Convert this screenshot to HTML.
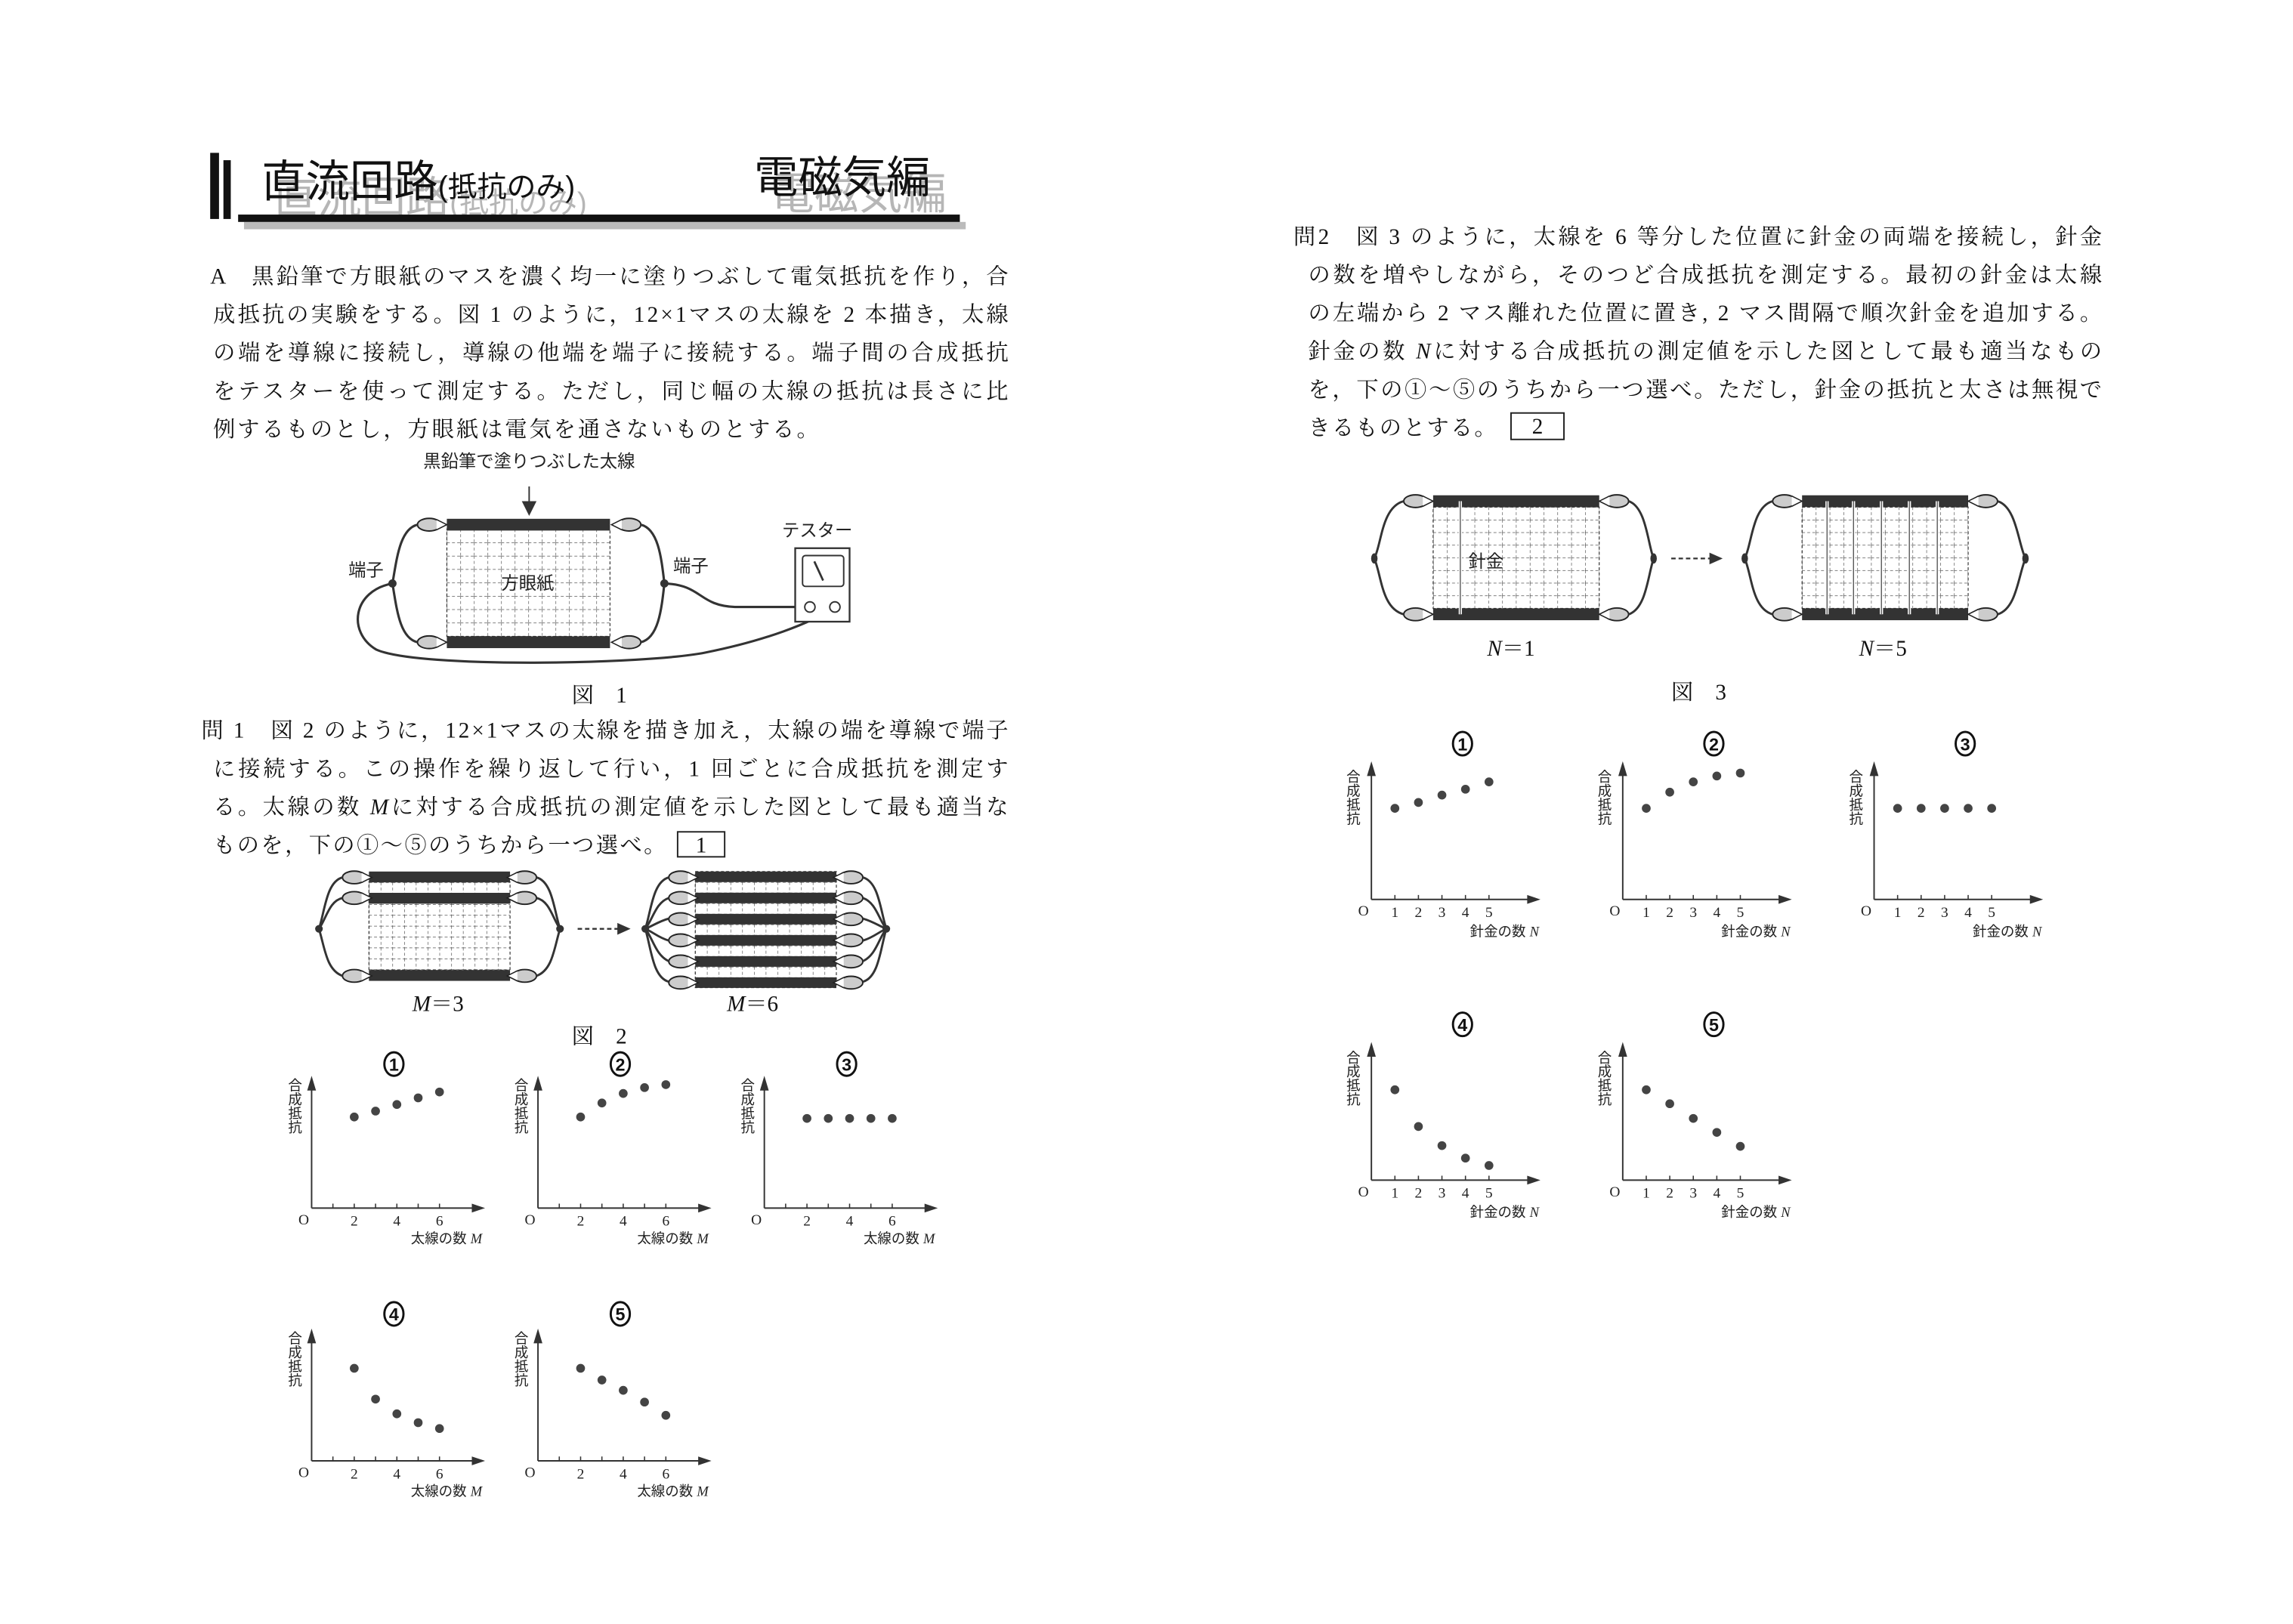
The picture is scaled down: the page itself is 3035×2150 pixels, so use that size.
<!DOCTYPE html>
<html><head><meta charset="utf-8"><style>
html,body{margin:0;padding:0;background:#fff;}
svg{display:block;}
.b{font-family:"Liberation Serif","Noto Serif CJK JP","Noto Serif CJK SC",serif;font-size:15px;fill:#111;}
.g{font-family:"Liberation Sans","Noto Sans CJK JP",sans-serif;fill:#111;}
.s{font-family:"Liberation Sans","Noto Sans CJK JP",sans-serif;font-size:12px;fill:#222;}
.n{font-family:"Liberation Serif",serif;font-size:10px;fill:#222;}
.ax{font-family:"Liberation Sans","Noto Sans CJK JP",sans-serif;font-size:9.5px;fill:#222;}
.cn{font-family:"Liberation Sans",sans-serif;font-size:12px;fill:#111;font-weight:bold;}
</style></head><body>
<svg width="3035" height="2150" viewBox="0 0 1560 1105" preserveAspectRatio="none" xmlns="http://www.w3.org/2000/svg">
<defs>
<pattern id="g1" x="304" y="360" width="9.25" height="9.1" patternUnits="userSpaceOnUse">
<path d="M0,0V9.1M0,0H9.25" stroke="#333" stroke-width="0.6" stroke-dasharray="2,1.5" fill="none"/></pattern>
<pattern id="g2" x="251" y="593" width="8" height="7.4" patternUnits="userSpaceOnUse">
<path d="M0,0V7.4M0,0H8" stroke="#333" stroke-width="0.6" stroke-dasharray="2,1.5" fill="none"/></pattern>
<pattern id="g3" x="473" y="593" width="8" height="7.2" patternUnits="userSpaceOnUse">
<path d="M0,0V7.2M0,0H8" stroke="#333" stroke-width="0.6" stroke-dasharray="2,1.5" fill="none"/></pattern>
<pattern id="g4" x="975" y="345" width="9.4" height="8.6" patternUnits="userSpaceOnUse">
<path d="M0,0V8.6M0,0H9.4" stroke="#333" stroke-width="0.6" stroke-dasharray="2,1.5" fill="none"/></pattern>
<pattern id="g5" x="1226" y="345" width="9.4" height="8.6" patternUnits="userSpaceOnUse">
<path d="M0,0V8.6M0,0H9.4" stroke="#333" stroke-width="0.6" stroke-dasharray="2,1.5" fill="none"/></pattern>
<g id="clipR"><ellipse cx="0" cy="0" rx="8" ry="4.3" fill="#ccc" stroke="#222" stroke-width="1"/><path d="M5,-3.5L12,0L5,3.5" fill="#fff" stroke="#222" stroke-width="0.8"/></g>
<g id="clipL"><ellipse cx="0" cy="0" rx="8" ry="4.3" fill="#ccc" stroke="#222" stroke-width="1"/><path d="M-5,-3.5L-12,0L-5,3.5" fill="#fff" stroke="#222" stroke-width="0.8"/></g>
<g id="axL"><path d="M0,0V-86M0,0H113" stroke="#333" stroke-width="1" fill="none"/>
<path d="M-3,-80L0,-90L3,-80Z" fill="#333"/><path d="M109,-3L118,0L109,3Z" fill="#333"/>
<path d="M14.5,0v-3M29,0v-3M43.5,0v-3M58,0v-3M72.5,0v-3M87,0v-3" stroke="#333" stroke-width="0.8"/>
<text class="n" x="-9" y="11">O</text><text class="n" x="26.5" y="12">2</text><text class="n" x="55.5" y="12">4</text><text class="n" x="84.5" y="12">6</text>
<text class="ax" x="116" y="24" text-anchor="end">太線の数 <tspan font-family="Liberation Serif" font-style="italic">M</tspan></text>
<text class="ax" x="-16" y="-80">合</text><text class="ax" x="-16" y="-70.5">成</text><text class="ax" x="-16" y="-61">抵</text><text class="ax" x="-16" y="-51.5">抗</text></g>
<g id="axR"><path d="M0,0V-90M0,0H110" stroke="#333" stroke-width="1" fill="none"/>
<path d="M-3,-84L0,-94L3,-84Z" fill="#333"/><path d="M106,-3L115,0L106,3Z" fill="#333"/>
<path d="M16,0v-3M32,0v-3M48,0v-3M64,0v-3M80,0v-3" stroke="#333" stroke-width="0.8"/>
<text class="n" x="-9" y="11">O</text><text class="n" x="13.5" y="12">1</text><text class="n" x="29.5" y="12">2</text><text class="n" x="45.5" y="12">3</text><text class="n" x="61.5" y="12">4</text><text class="n" x="77.5" y="12">5</text>
<text class="ax" x="114" y="25" text-anchor="end">針金の数 <tspan font-family="Liberation Serif" font-style="italic">N</tspan></text>
<text class="ax" x="-17" y="-80">合</text><text class="ax" x="-17" y="-70.5">成</text><text class="ax" x="-17" y="-61">抵</text><text class="ax" x="-17" y="-51.5">抗</text></g>
</defs>

<!-- Title -->
<rect x="143" y="104" width="6" height="45" fill="#111"/><rect x="152" y="109" width="5" height="40" fill="#111"/>
<g opacity="0.3" fill="#444"><text class="g" x="186" y="145" font-size="30">直流回路<tspan font-size="20">(抵抗のみ)</tspan></text><text class="g" x="524" y="142" font-size="30">電磁気編</text></g>
<text class="g" x="178" y="134" font-size="30">直流回路<tspan font-size="20">(抵抗のみ)</tspan></text>
<text class="g" x="513" y="131" font-size="30">電磁気編</text>
<rect x="166" y="151" width="491" height="5" fill="#bbb"/>
<rect x="162" y="146" width="491" height="5" fill="#111"/>

<!-- Paragraph A -->
<text class="b" x="143" y="193" textLength="543" lengthAdjust="spacing">A　黒鉛筆で方眼紙のマスを濃く均一に塗りつぶして電気抵抗を作り，合</text>
<text class="b" x="145" y="219" textLength="541" lengthAdjust="spacing">成抵抗の実験をする。図 1 のように，12×1マスの太線を 2 本描き，太線</text>
<text class="b" x="145" y="245" textLength="541" lengthAdjust="spacing">の端を導線に接続し，導線の他端を端子に接続する。端子間の合成抵抗</text>
<text class="b" x="145" y="271" textLength="541" lengthAdjust="spacing">をテスターを使って測定する。ただし，同じ幅の太線の抵抗は長さに比</text>
<text class="b" x="145" y="297" textLength="412" lengthAdjust="spacing">例するものとし，方眼紙は電気を通さないものとする。</text>

<!-- Fig 1 -->
<text class="s" x="360" y="318" text-anchor="middle">黒鉛筆で塗りつぶした太線</text>
<line x1="360" y1="331" x2="360" y2="343" stroke="#333" stroke-width="1"/><path d="M355,341L360,351L365,341Z" fill="#333"/>
<rect x="304" y="360" width="111" height="73" fill="url(#g1)" stroke="#333" stroke-width="0.6" stroke-dasharray="2,1.5"/>
<rect x="304" y="353" width="111" height="8" fill="#333"/><rect x="304" y="433" width="111" height="8" fill="#333"/>
<use href="#clipR" x="292" y="357"/><use href="#clipR" x="292" y="437"/><use href="#clipL" x="428" y="357"/><use href="#clipL" x="428" y="437"/>
<path d="M284,357C272,360 270,380 267,397C270,415 272,434 284,437" stroke="#333" stroke-width="1.6" fill="none"/>
<path d="M436,357C448,360 450,380 452,397C450,415 448,434 436,437" stroke="#333" stroke-width="1.6" fill="none"/>
<circle cx="267" cy="397" r="2.8" fill="#333"/><circle cx="452" cy="397" r="2.8" fill="#333"/>
<path d="M267,397C240,402 236,430 256,442C285,455 440,452 480,444C520,436 552,424 568,413" stroke="#333" stroke-width="1.6" fill="none"/>
<path d="M452,397C478,398 475,412 500,413L548,413" stroke="#333" stroke-width="1.6" fill="none"/>
<rect x="541" y="373" width="37" height="50" fill="#fff" stroke="#333" stroke-width="1.2"/>
<rect x="546" y="378" width="28" height="21" rx="2" fill="#fff" stroke="#333" stroke-width="1"/>
<line x1="554" y1="382" x2="560" y2="395" stroke="#333" stroke-width="1.4"/>
<circle cx="551" cy="413" r="3.5" fill="#fff" stroke="#333"/><circle cx="568" cy="413" r="3.5" fill="#fff" stroke="#333"/>
<text class="s" x="237" y="392">端子</text><text class="s" x="458" y="389">端子</text>
<text class="s" x="532" y="365">テスター</text><text class="s" x="341" y="401" font-size="13">方眼紙</text>
<text class="b" x="389" y="478" font-size="13">図　1</text>

<!-- Q1 -->
<text class="b" x="137" y="502" textLength="549" lengthAdjust="spacing">問 1　図 2 のように，12×1マスの太線を描き加え，太線の端を導線で端子</text>
<text class="b" x="145" y="528" textLength="541" lengthAdjust="spacing">に接続する。この操作を繰り返して行い，1 回ごとに合成抵抗を測定す</text>
<text class="b" x="145" y="554" textLength="541" lengthAdjust="spacing">る。太線の数 <tspan font-style="italic">M</tspan>に対する合成抵抗の測定値を示した図として最も適当な</text>
<text class="b" x="145" y="580" textLength="308" lengthAdjust="spacing">ものを，下の①〜⑤のうちから一つ選べ。</text>
<rect x="461" y="566" width="32" height="17" fill="#fff" stroke="#222" stroke-width="1"/><text class="b" x="477" y="580" text-anchor="middle" font-size="13">1</text>

<!-- Fig 2 left -->
<rect x="251" y="600" width="96" height="60" fill="url(#g2)" stroke="#333" stroke-width="0.6" stroke-dasharray="2,1.5"/>
<rect x="251" y="593" width="96" height="7.4" fill="#333"/><rect x="251" y="607.5" width="96" height="7.4" fill="#333"/><rect x="251" y="660" width="96" height="7.4" fill="#333"/>
<use href="#clipR" x="241" y="597"/><use href="#clipR" x="241" y="611"/><use href="#clipR" x="241" y="664"/>
<use href="#clipL" x="357" y="597"/><use href="#clipL" x="357" y="611"/><use href="#clipL" x="357" y="664"/>
<g stroke="#333" stroke-width="1.5" fill="none">
<path d="M233,597C222,600 221,620 217,632C221,645 222,660 233,664"/><path d="M233,611C224,613 222,625 217,632"/>
<path d="M365,597C376,600 377,620 381,632C377,645 376,660 365,664"/><path d="M365,611C374,613 376,625 381,632"/></g>
<circle cx="217" cy="632" r="2.6" fill="#333"/><circle cx="381" cy="632" r="2.6" fill="#333"/>
<line x1="393" y1="632" x2="422" y2="632" stroke="#333" stroke-width="1.2" stroke-dasharray="3,2"/><path d="M420,628L429,632L420,636Z" fill="#333"/>
<!-- Fig 2 right -->
<rect x="473" y="593" width="96" height="79" fill="url(#g3)" stroke="#333" stroke-width="0.6" stroke-dasharray="2,1.5"/>
<g fill="#333"><rect x="473" y="593" width="96" height="7.2"/><rect x="473" y="607.4" width="96" height="7.2"/><rect x="473" y="621.8" width="96" height="7.2"/><rect x="473" y="636.2" width="96" height="7.2"/><rect x="473" y="650.6" width="96" height="7.2"/><rect x="473" y="665" width="96" height="7.2"/></g>
<g><use href="#clipR" x="463" y="597"/><use href="#clipR" x="463" y="611"/><use href="#clipR" x="463" y="625.4"/><use href="#clipR" x="463" y="639.8"/><use href="#clipR" x="463" y="654.2"/><use href="#clipR" x="463" y="668.6"/>
<use href="#clipL" x="579" y="597"/><use href="#clipL" x="579" y="611"/><use href="#clipL" x="579" y="625.4"/><use href="#clipL" x="579" y="639.8"/><use href="#clipL" x="579" y="654.2"/><use href="#clipL" x="579" y="668.6"/></g>
<g stroke="#333" stroke-width="1.5" fill="none">
<path d="M455,597C444,600 443,620 439,632C443,645 444,665 455,668"/><path d="M455,611C446,614 444,626 439,632C444,638 446,650 455,654"/><path d="M455,625C448,627 444,630 439,632C444,634 448,638 455,640"/>
<path d="M587,597C598,600 599,620 603,632C599,645 598,665 587,668"/><path d="M587,611C596,614 598,626 603,632C598,638 596,650 587,654"/><path d="M587,625C594,627 598,630 603,632C598,634 594,638 587,640"/></g>
<circle cx="439" cy="632" r="2.6" fill="#333"/><circle cx="603" cy="632" r="2.6" fill="#333"/>
<text class="b" x="298" y="688" text-anchor="middle" font-size="13"><tspan font-style="italic">M</tspan>＝3</text>
<text class="b" x="512" y="688" text-anchor="middle" font-size="13"><tspan font-style="italic">M</tspan>＝6</text>
<text class="b" x="389" y="710" font-size="13">図　2</text>

<!-- Left charts -->
<g transform="translate(212,822)"><use href="#axL"/>
<ellipse cx="56" cy="-98" rx="6.5" ry="8" fill="none" stroke="#111" stroke-width="1.5"/><text class="cn" x="56" y="-93.5" text-anchor="middle">1</text>
<g fill="#444"><circle cx="29" cy="-62" r="3"/><circle cx="43.5" cy="-66" r="3"/><circle cx="58" cy="-70.5" r="3"/><circle cx="72.5" cy="-75" r="3"/><circle cx="87" cy="-79" r="3"/></g></g>
<g transform="translate(366,822)"><use href="#axL"/>
<ellipse cx="56" cy="-98" rx="6.5" ry="8" fill="none" stroke="#111" stroke-width="1.5"/><text class="cn" x="56" y="-93.5" text-anchor="middle">2</text>
<g fill="#444"><circle cx="29" cy="-62" r="3"/><circle cx="43.5" cy="-71.5" r="3"/><circle cx="58" cy="-78" r="3"/><circle cx="72.5" cy="-82" r="3"/><circle cx="87" cy="-84" r="3"/></g></g>
<g transform="translate(520,822)"><use href="#axL"/>
<ellipse cx="56" cy="-98" rx="6.5" ry="8" fill="none" stroke="#111" stroke-width="1.5"/><text class="cn" x="56" y="-93.5" text-anchor="middle">3</text>
<g fill="#444"><circle cx="29" cy="-61" r="3"/><circle cx="43.5" cy="-61" r="3"/><circle cx="58" cy="-61" r="3"/><circle cx="72.5" cy="-61" r="3"/><circle cx="87" cy="-61" r="3"/></g></g>
<g transform="translate(212,994)"><use href="#axL"/>
<ellipse cx="56" cy="-100" rx="6.5" ry="8" fill="none" stroke="#111" stroke-width="1.5"/><text class="cn" x="56" y="-95.5" text-anchor="middle">4</text>
<g fill="#444"><circle cx="29" cy="-63" r="3"/><circle cx="43.5" cy="-42" r="3"/><circle cx="58" cy="-32" r="3"/><circle cx="72.5" cy="-26" r="3"/><circle cx="87" cy="-22" r="3"/></g></g>
<g transform="translate(366,994)"><use href="#axL"/>
<ellipse cx="56" cy="-100" rx="6.5" ry="8" fill="none" stroke="#111" stroke-width="1.5"/><text class="cn" x="56" y="-95.5" text-anchor="middle">5</text>
<g fill="#444"><circle cx="29" cy="-63" r="3"/><circle cx="43.5" cy="-55" r="3"/><circle cx="58" cy="-48" r="3"/><circle cx="72.5" cy="-40" r="3"/><circle cx="87" cy="-31" r="3"/></g></g>

<!-- Q2 -->
<text class="b" x="880" y="166" textLength="550" lengthAdjust="spacing">問2　図 3 のように，太線を 6 等分した位置に針金の両端を接続し，針金</text>
<text class="b" x="890" y="192" textLength="540" lengthAdjust="spacing">の数を増やしながら，そのつど合成抵抗を測定する。最初の針金は太線</text>
<text class="b" x="890" y="218" textLength="540" lengthAdjust="spacing">の左端から 2 マス離れた位置に置き, 2 マス間隔で順次針金を追加する。</text>
<text class="b" x="890" y="244" textLength="540" lengthAdjust="spacing">針金の数 <tspan font-style="italic">N</tspan>に対する合成抵抗の測定値を示した図として最も適当なもの</text>
<text class="b" x="890" y="270" textLength="540" lengthAdjust="spacing">を，下の①〜⑤のうちから一つ選べ。ただし，針金の抵抗と太さは無視で</text>
<text class="b" x="890" y="296" textLength="128" lengthAdjust="spacing">きるものとする。</text>
<rect x="1028" y="281" width="36" height="18" fill="#fff" stroke="#222" stroke-width="1"/><text class="b" x="1046" y="295" text-anchor="middle" font-size="13">2</text>

<!-- Fig 3 left -->
<rect x="975" y="345" width="113" height="69" fill="url(#g4)" stroke="#333" stroke-width="0.6" stroke-dasharray="2,1.5"/>
<rect x="975" y="337" width="113" height="8" fill="#333"/><rect x="975" y="414" width="113" height="8" fill="#333"/>
<line x1="993.5" y1="341" x2="993.5" y2="418" stroke="#fff" stroke-width="2.2"/><line x1="993.5" y1="341" x2="993.5" y2="418" stroke="#555" stroke-width="0.7"/>
<use href="#clipR" x="963" y="341"/><use href="#clipR" x="963" y="418"/><use href="#clipL" x="1100" y="341"/><use href="#clipL" x="1100" y="418"/>
<g stroke="#333" stroke-width="1.5" fill="none"><path d="M955,341C940,345 940,370 935,380C940,392 940,414 955,418"/><path d="M1108,341C1120,345 1121,370 1125,380C1121,392 1120,414 1108,418"/></g>
<ellipse cx="935" cy="380" rx="2.2" ry="3.5" fill="#333"/><ellipse cx="1125" cy="380" rx="2.2" ry="3.5" fill="#333"/>
<text class="s" x="999" y="386" font-size="13">針金</text>
<line x1="1137" y1="380" x2="1165" y2="380" stroke="#333" stroke-width="1.2" stroke-dasharray="3,2"/><path d="M1163,376L1172,380L1163,384Z" fill="#333"/>
<!-- Fig 3 right -->
<rect x="1226" y="345" width="113" height="69" fill="url(#g5)" stroke="#333" stroke-width="0.6" stroke-dasharray="2,1.5"/>
<rect x="1226" y="337" width="113" height="8" fill="#333"/><rect x="1226" y="414" width="113" height="8" fill="#333"/>
<g stroke="#fff" stroke-width="2.2"><line x1="1243" y1="341" x2="1243" y2="418"/><line x1="1261" y1="341" x2="1261" y2="418"/><line x1="1280" y1="341" x2="1280" y2="418"/><line x1="1299" y1="341" x2="1299" y2="418"/><line x1="1318" y1="341" x2="1318" y2="418"/></g>
<g stroke="#555" stroke-width="0.7"><line x1="1243" y1="341" x2="1243" y2="418"/><line x1="1261" y1="341" x2="1261" y2="418"/><line x1="1280" y1="341" x2="1280" y2="418"/><line x1="1299" y1="341" x2="1299" y2="418"/><line x1="1318" y1="341" x2="1318" y2="418"/></g>
<use href="#clipR" x="1214" y="341"/><use href="#clipR" x="1214" y="418"/><use href="#clipL" x="1351" y="341"/><use href="#clipL" x="1351" y="418"/>
<g stroke="#333" stroke-width="1.5" fill="none"><path d="M1206,341C1192,345 1192,370 1187,380C1192,392 1192,414 1206,418"/><path d="M1359,341C1372,345 1373,370 1378,380C1373,392 1372,414 1359,418"/></g>
<ellipse cx="1187" cy="380" rx="2.2" ry="3.5" fill="#333"/><ellipse cx="1378" cy="380" rx="2.2" ry="3.5" fill="#333"/>
<text class="b" x="1028" y="446" text-anchor="middle" font-size="13"><tspan font-style="italic">N</tspan>＝1</text>
<text class="b" x="1281" y="446" text-anchor="middle" font-size="13"><tspan font-style="italic">N</tspan>＝5</text>
<text class="b" x="1137" y="476" font-size="13">図　3</text>

<!-- Right charts -->
<g transform="translate(933,612)"><use href="#axR"/>
<ellipse cx="62" cy="-106" rx="6.5" ry="8" fill="none" stroke="#111" stroke-width="1.5"/><text class="cn" x="62" y="-101.5" text-anchor="middle">1</text>
<g fill="#444"><circle cx="16" cy="-62" r="3"/><circle cx="32" cy="-66" r="3"/><circle cx="48" cy="-71" r="3"/><circle cx="64" cy="-75" r="3"/><circle cx="80" cy="-80" r="3"/></g></g>
<g transform="translate(1104,612)"><use href="#axR"/>
<ellipse cx="62" cy="-106" rx="6.5" ry="8" fill="none" stroke="#111" stroke-width="1.5"/><text class="cn" x="62" y="-101.5" text-anchor="middle">2</text>
<g fill="#444"><circle cx="16" cy="-62" r="3"/><circle cx="32" cy="-73" r="3"/><circle cx="48" cy="-80" r="3"/><circle cx="64" cy="-84" r="3"/><circle cx="80" cy="-86" r="3"/></g></g>
<g transform="translate(1275,612)"><use href="#axR"/>
<ellipse cx="62" cy="-106" rx="6.5" ry="8" fill="none" stroke="#111" stroke-width="1.5"/><text class="cn" x="62" y="-101.5" text-anchor="middle">3</text>
<g fill="#444"><circle cx="16" cy="-62" r="3"/><circle cx="32" cy="-62" r="3"/><circle cx="48" cy="-62" r="3"/><circle cx="64" cy="-62" r="3"/><circle cx="80" cy="-62" r="3"/></g></g>
<g transform="translate(933,803)"><use href="#axR"/>
<ellipse cx="62" cy="-106" rx="6.5" ry="8" fill="none" stroke="#111" stroke-width="1.5"/><text class="cn" x="62" y="-101.5" text-anchor="middle">4</text>
<g fill="#444"><circle cx="16" cy="-61.5" r="3"/><circle cx="32" cy="-36.5" r="3"/><circle cx="48" cy="-23.5" r="3"/><circle cx="64" cy="-15" r="3"/><circle cx="80" cy="-10" r="3"/></g></g>
<g transform="translate(1104,803)"><use href="#axR"/>
<ellipse cx="62" cy="-106" rx="6.5" ry="8" fill="none" stroke="#111" stroke-width="1.5"/><text class="cn" x="62" y="-101.5" text-anchor="middle">5</text>
<g fill="#444"><circle cx="16" cy="-61.5" r="3"/><circle cx="32" cy="-52" r="3"/><circle cx="48" cy="-42" r="3"/><circle cx="64" cy="-32.5" r="3"/><circle cx="80" cy="-23" r="3"/></g></g>
</svg>
</body></html>
